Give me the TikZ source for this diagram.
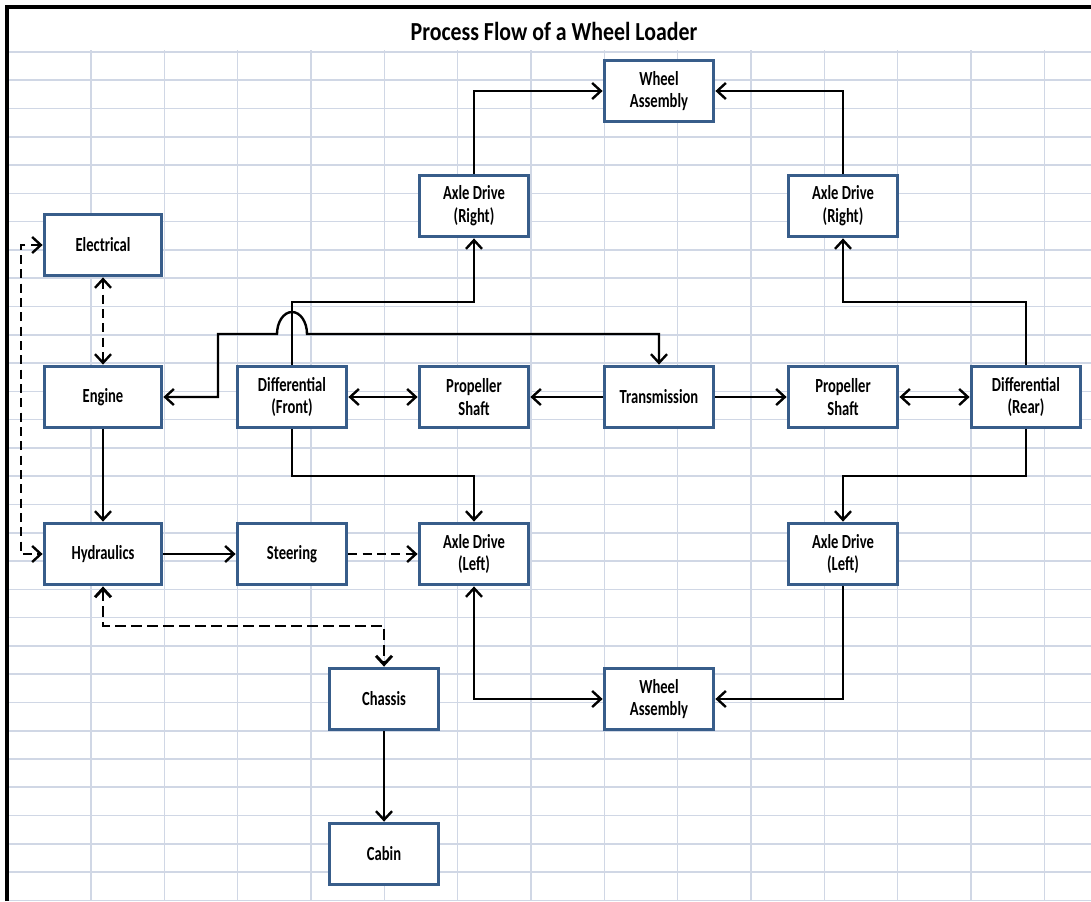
\documentclass[tikz,border=0pt]{standalone}
\usepackage{fontspec}
\newfontfamily\boxfont[FakeStretch=0.73]{Carlito}
\newfontfamily\titlefont[FakeStretch=0.84]{Carlito}
\usetikzlibrary{arrows.meta}
\definecolor{boxblue}{RGB}{56,93,138}
\definecolor{gridblue}{RGB}{208,215,229}
\tikzset{
	block/.style={draw=boxblue, line width=2.6pt, fill=white, minimum width=82pt, minimum height=46pt,
		inner sep=0pt, align=center, font=\boxfont\bfseries\fontsize{15}{17}\selectfont},
	wideblock/.style={block, minimum width=88pt},
	conn/.style={line width=1.8pt, ->, >={Straight Barb[length=6.5pt,width=12pt]}},
	dconn/.style={conn, dash pattern=on 6.75pt off 4pt},
	bigdash/.style={conn, line width=2.2pt, dash pattern=on 8pt off 4pt},
}
\begin{document}
\begin{tikzpicture}[x=0.75pt,y=-0.75pt]
		\useasboundingbox (0,0) rectangle (1091,901);
		% sheet grid
		\foreach \gx in {0,...,13} {
			\draw[gridblue, line width=1.2pt] ({91+73.33*\gx},50) -- ({91+73.33*\gx},901);
		}
		\foreach \gy in {0,...,30} {
			\draw[gridblue, line width=1.2pt] (8,{52+28.28*\gy}) -- (1091,{52+28.28*\gy});
		}
		\draw[line width=2.5pt] (7,901) -- (7,7) -- (1091,7);
		\node[font=\titlefont\bfseries\fontsize{19.5}{22}\selectfont] (title) at (554,31) {Process Flow of a Wheel Loader};
		% blocks
		\node[block] (wheeltop) at (659,91) {Wheel\\Assembly};
		\node[block] (axlerightF) at (474,206) {Axle Drive\\(Right)};
		\node[block] (axlerightR) at (843,206) {Axle Drive\\(Right)};
		\node[wideblock] (electrical) at (103,245) {Electrical};
		\node[wideblock] (engine) at (103,397) {Engine};
		\node[block] (difffront) at (292,397) {Differential\\(Front)};
		\node[block] (propfront) at (474,397) {Propeller\\Shaft};
		\node[block] (transmission) at (659,397) {Transmission};
		\node[block] (proprear) at (843,397) {Propeller\\Shaft};
		\node[block] (diffrear) at (1026,397) {Differential\\(Rear)};
		\node[wideblock] (hydraulics) at (103,554) {Hydraulics};
		\node[block] (steering) at (292,554) {Steering};
		\node[block] (axleleftF) at (474,554) {Axle Drive\\(Left)};
		\node[block] (axleleftR) at (843,554) {Axle Drive\\(Left)};
		\node[block] (chassis) at (384,699) {Chassis};
		\node[block] (wheelbot) at (659,699) {Wheel\\Assembly};
		\node[block] (cabin) at (384,854) {Cabin};
		% levels for the bends
		\coordinate (upper) at (0,302);
		\coordinate (hop) at (218,334);
		\coordinate (lower) at (0,476);
		\coordinate (dashrow) at (0,626);
		\coordinate (dashcol) at (21,0);
		% connectors
		\draw[conn] (axlerightF.north) |- (wheeltop.west);
		\draw[conn] (axlerightR.north) |- (wheeltop.east);
		\draw[conn] (difffront.north) -- (difffront.north |- upper) -| (axlerightF.south);
		\draw[conn] (diffrear.north) -- (diffrear.north |- upper) -| (axlerightR.south);
		\draw[conn,<->] (engine.east) -| (hop) -- (277,334)
			arc[start angle=180, end angle=0, x radius=11.25pt, y radius=16.5pt]
			-- (transmission.north |- hop) -- (transmission.north);
		\draw[conn,<->] (difffront.east) -- (propfront.west);
		\draw[conn] (transmission.west) -- (propfront.east);
		\draw[conn] (transmission.east) -- (proprear.west);
		\draw[conn,<->] (proprear.east) -- (diffrear.west);
		\draw[conn] (difffront.south) -- (difffront.south |- lower) -| (axleleftF.north);
		\draw[conn] (diffrear.south) -- (diffrear.south |- lower) -| (axleleftR.north);
		\draw[conn,<->] (axleleftF.south) |- (wheelbot.west);
		\draw[conn] (axleleftR.south) |- (wheelbot.east);
		\draw[dconn,<->] (electrical.south) -- (engine.north);
		\draw[conn] (engine.south) -- (hydraulics.north);
		\draw[conn] (hydraulics.east) -- (steering.west);
		\draw[dconn] (steering.east) -- (axleleftF.west);
		\draw[dconn,<->] (electrical.west) -- (electrical.west -| dashcol) |- (hydraulics.west);
		\draw[bigdash,<->] (hydraulics.south) -- (hydraulics.south |- dashrow) -| (chassis.north);
		\draw[conn] (chassis.south) -- (cabin.north);
	\end{tikzpicture}
\end{document}
